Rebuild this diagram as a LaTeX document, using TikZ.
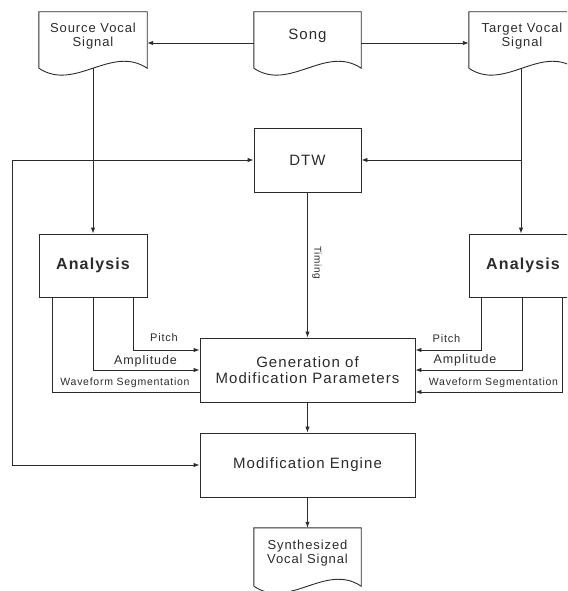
\documentclass[tikz,border=0pt]{standalone}
\usepackage{fontspec}
\setmainfont{Liberation Sans}[LetterSpace=7]
\usetikzlibrary{arrows.meta,calc}
\definecolor{ink}{HTML}{2B2B2B}
\tikzset{
  ln/.style={draw=ink, line width=0.9pt},
  arr/.style={ln, -{Latex[length=6pt,width=4.5pt]}},
  box/.style={ln, rectangle, inner sep=0pt, text=ink, align=center},
  docn/.style={rectangle, inner sep=0pt, minimum height=56pt},
  doctext/.style={text=ink, align=center, yshift=4pt, font=\fontsize{13}{14}\selectfont},
  bigtext/.style={font=\fontsize{15}{16.5}\selectfont},
  small/.style={text=ink, inner sep=0pt}
}
\begin{document}
\begin{tikzpicture}[x=1pt,y=-1pt]
\useasboundingbox (0,0) rectangle (567,591);
\clip (0,0) rectangle (567,591);
% documents
\node[docn, minimum width=108pt, label={[doctext]center:Source Vocal\\Signal}] (src) at (93,40) {};
\node[docn, minimum width=107pt, label={[doctext, font=\fontsize{15}{16.5}\selectfont]center:Song}] (song) at (307.5,40) {};
\node[docn, minimum width=106pt, label={[doctext]center:Target Vocal\\Signal}] (tgt) at (522,40) {};
\node[docn, minimum width=107pt, minimum height=58pt, label={[doctext]center:Synthesized\\Vocal Signal}] (syn) at (307.5,557) {};
\foreach \n in {src,song,tgt,syn}{
  \draw[ln] (\n.south west) -- (\n.north west) -- (\n.north east) -- (\n.south east)
    .. controls ($(\n.south west)!0.667!(\n.south east)+(0,-24)$) and ($(\n.south west)!0.333!(\n.south east)+(0,24)$) .. (\n.south west);
}
% boxes
\node[box, bigtext, minimum width=107pt, minimum height=64pt] (dtw) at (307.5,160) {DTW};
\node[box, minimum width=108pt, minimum height=63pt, font=\fontsize{16}{18}\bfseries] (anaL) at (93,265.5) {Analysis};
\node[box, minimum width=108pt, minimum height=63pt, font=\fontsize{16}{18}\bfseries] (anaR) at (523,265.5) {Analysis};
\node[box, bigtext, minimum width=215pt, minimum height=64pt] (gen) at (307.5,370) {Generation of\\Modification Parameters};
\node[box, bigtext, minimum width=215pt, minimum height=64pt] (eng) at (307.5,465) {Modification Engine};
% top connectors
\draw[arr] ([yshift=-3pt]song.west) -- ([yshift=-3pt]src.east);
\draw[arr] ([yshift=-3pt]song.east) -- ([yshift=-3pt]tgt.west);
\draw[arr] (src.south) -- (anaL.north);
\draw[arr] ([xshift=-1pt]tgt.south) -- ([xshift=-1pt]tgt.south |- anaR.north);
\draw[arr] ([xshift=-1pt]tgt.south |- dtw.east) -- (dtw.east);
% feedback line
\coordinate (fbt) at (12,160);
\coordinate (fbb) at (12,465);
\draw[ln, {Latex[length=6pt,width=4.5pt]}-{Latex[length=6pt,width=4.5pt]}] (dtw.west) -- (fbt) -- (fbb) -- (eng.west);
% timing
\draw[arr] (dtw.south) -- (gen.north);
\node[small, rotate=-90, font=\fontsize{10}{12}\selectfont] (timing) at (317,263) {Timing};
% left analysis outputs
\draw[arr] ([xshift=40pt]anaL.south) |- ([yshift=20pt]gen.west);
\draw[arr] (anaL.south) |- (gen.west);
\draw[ln] ([xshift=-41pt]anaL.south) |- ([yshift=-22pt]gen.west);
\node[small, font=\fontsize{11}{12}\selectfont] (pL) at (164,338) {Pitch};
\node[small, font=\fontsize{12.5}{14}\selectfont] (aL) at (145.5,361) {Amplitude};
\node[small, font=\fontsize{10.5}{12}\selectfont] (wL) at (125,383) {Waveform Segmentation};
% right analysis outputs
\draw[arr] ([xshift=-42pt]anaR.south) |- ([yshift=20pt]gen.east);
\draw[arr] ([xshift=-1pt]anaR.south) |- (gen.east);
\draw[arr] ([xshift=39pt]anaR.south) |- ([yshift=-22pt]gen.east);
\node[small, font=\fontsize{11}{12}\selectfont] (pR) at (446.5,339) {Pitch};
\node[small, font=\fontsize{12.5}{14}\selectfont] (aR) at (465,360) {Amplitude};
\node[small, font=\fontsize{10.5}{12}\selectfont] (wR) at (493.5,383) {Waveform Segmentation};
% bottom
\draw[arr] (gen.south) -- (eng.north);
\draw[arr] (eng.south) -- (syn.north);
\end{tikzpicture}
\end{document}
